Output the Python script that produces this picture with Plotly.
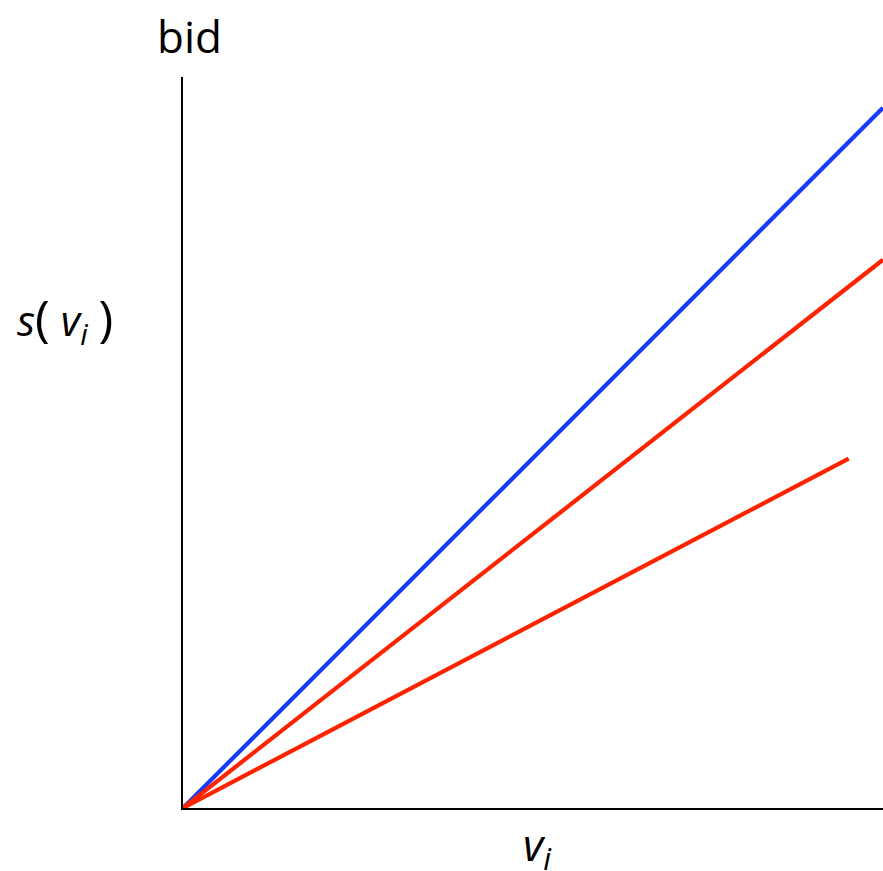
import plotly.graph_objects as go

v_full = [0, 1.0]
bid_truthful = [0, 1.0]
bid_high = [0, 0.783]
v_short = [0, 0.951]
bid_low = [0, 0.499]

BLUE = "rgb(20,60,250)"
RED = "rgb(255,35,0)"

W, H = 883, 871
L, T, PW, PH = 183, 77, 700, 731

fig = go.Figure()
for xs, ys, c in [(v_full, bid_truthful, BLUE), (v_full, bid_high, RED), (v_short, bid_low, RED)]:
    fig.add_trace(go.Scatter(x=xs, y=ys, mode="lines", hoverinfo="skip",
                             line=dict(color=c, width=4.2), cliponaxis=False))

font = "Open Sans"
fig.update_layout(
    width=W, height=H,
    margin=dict(l=L, r=W - L - PW, t=T, b=H - T - PH, pad=0),
    paper_bgcolor="white", plot_bgcolor="white",
    showlegend=False,
    xaxis=dict(range=[0, 1], showgrid=False, zeroline=False, showticklabels=False,
               ticks="", showline=True, linecolor="black", linewidth=2.2, fixedrange=True),
    yaxis=dict(range=[0, 1.044], showgrid=False, zeroline=False, showticklabels=False,
               ticks="", showline=True, linecolor="black", linewidth=2.2, fixedrange=True),
)

def px(x, y):
    # screen pixel -> paper coords
    return (x - L) / PW, (T + PH - y) / PH

labels = [
    ("bid", 189, 36, 44),
    ("<i>s</i><span style='font-size:50px'>(</span> <i>v</i><sub><i>i</i></sub> <span style='font-size:50px'>)</span>", 65, 318, 42),
    ("<i>v</i><sub><i>i</i></sub>", 537, 846, 44),
]
for text, x, y, size in labels:
    ax, ay = px(x, y)
    fig.add_annotation(text=text, x=ax, y=ay, xref="paper", yref="paper", showarrow=False,
                       font=dict(family=font, size=size, color="black"),
                       xanchor="center", yanchor="middle")

fig.write_html("out.html", config={"displayModeBar": False, "staticPlot": True},
               post_script="document.body.style.margin='0';document.body.style.overflow='hidden';")
